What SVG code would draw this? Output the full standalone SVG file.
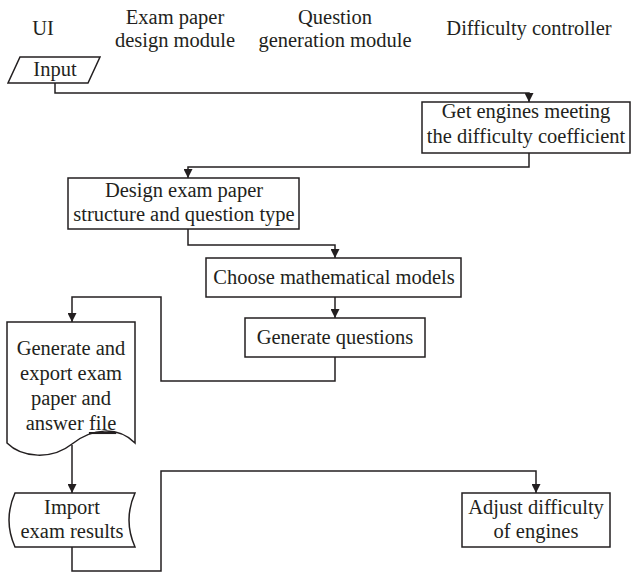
<svg xmlns="http://www.w3.org/2000/svg" width="633" height="572" viewBox="0 0 633 572">
<style>
  text { font-family: "Liberation Serif", "Times New Roman", serif; font-size: 20.5px; fill: #231f20; text-anchor: middle; }
  .shape { fill: #ffffff; stroke: #231f20; stroke-width: 1.5; }
  .conn { fill: none; stroke: #231f20; stroke-width: 1.5; }
</style>
<defs>
  <marker id="arrow" markerUnits="userSpaceOnUse" markerWidth="9" markerHeight="9" refX="9" refY="4.5" orient="auto">
    <path d="M0,0 L9,4.5 L0,9 Z" fill="#231f20"/>
  </marker>
</defs>
<rect width="633" height="572" fill="#ffffff"/>

<g id="headers">
  <text x="43" y="35">UI</text>
  <text x="175" y="24">Exam paper</text>
  <text x="175" y="47">design module</text>
  <text x="335" y="24">Question</text>
  <text x="335" y="47">generation module</text>
  <text x="529" y="35">Difficulty controller</text>
</g>

<g id="connectors">
  <path class="conn" d="M55,83 V93 H529 V102" marker-end="url(#arrow)"/>
  <path class="conn" d="M529,153 V167 H188 V178" marker-end="url(#arrow)"/>
  <path class="conn" d="M188,229 V245 H335 V258" marker-end="url(#arrow)"/>
  <path class="conn" d="M335,297 V318" marker-end="url(#arrow)"/>
  <path class="conn" d="M335,357 V381 H161 V297 H72 V322" marker-end="url(#arrow)"/>
  <path class="conn" d="M72,445 V493" marker-end="url(#arrow)"/>
  <path class="conn" d="M72,547 V571 H161 V471 H536 V493" marker-end="url(#arrow)"/>
</g>

<g id="input">
  <polygon class="shape" points="20,57 100,57 88,83 8,83"/>
  <text x="55" y="76">Input</text>
</g>

<g id="get-engines">
  <rect class="shape" x="422" y="102" width="208" height="51"/>
  <text x="526" y="118">Get engines meeting</text>
  <text x="526" y="143">the difficulty coefficient</text>
</g>

<g id="design-structure">
  <rect class="shape" x="68" y="178" width="231" height="51"/>
  <text x="184" y="197">Design exam paper</text>
  <text x="184" y="221">structure and question type</text>
</g>

<g id="choose-models">
  <rect class="shape" x="206" y="258" width="255" height="39"/>
  <text x="334" y="284">Choose mathematical models</text>
</g>

<g id="generate-questions">
  <rect class="shape" x="245" y="318" width="180" height="39"/>
  <text x="335" y="344">Generate questions</text>
</g>

<g id="export-paper">
  <path class="shape" d="M7,322 H135 V443 C118,426 92,428 72,444 C52,460 22,458 7,443 Z"/>
  <text x="71" y="355">Generate and</text>
  <text x="71" y="380">export exam</text>
  <text x="71" y="405">paper and</text>
  <text x="71" y="430">answer <tspan text-decoration="underline">file</tspan></text>
</g>

<g id="import-results">
  <path class="shape" d="M15,493 H135 Q123,520 135,547 H15 Q3,520 15,493 Z"/>
  <text x="72" y="514">Import</text>
  <text x="72" y="538">exam results</text>
</g>

<g id="adjust-difficulty">
  <rect class="shape" x="462" y="493" width="148" height="54"/>
  <text x="536" y="514">Adjust difficulty</text>
  <text x="536" y="538">of engines</text>
</g>
</svg>
